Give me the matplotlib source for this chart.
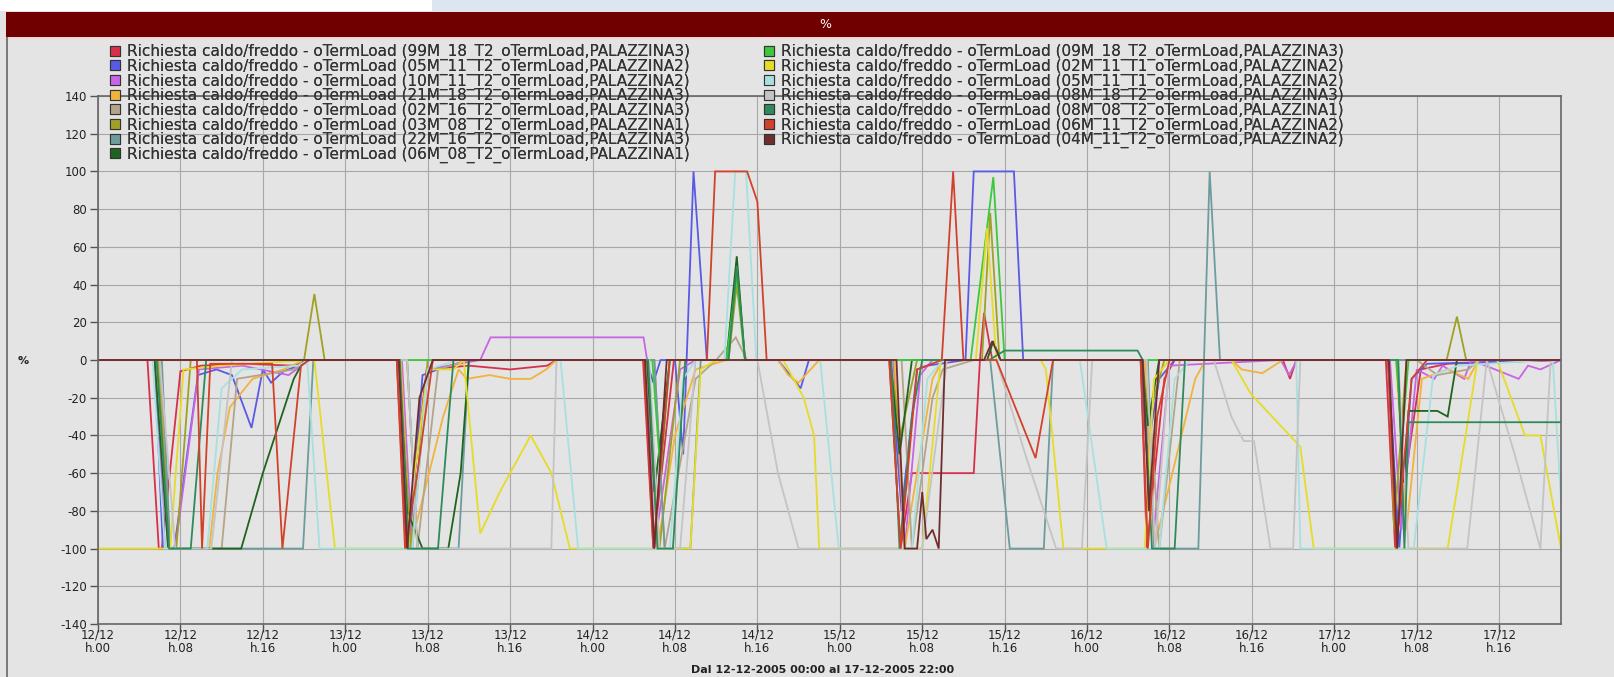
import matplotlib
matplotlib.use("Agg")
import matplotlib.pyplot as plt
from matplotlib.patches import Rectangle, Patch

W, H = 1614, 677

# --- data (hours from 12/12 00:00, value in %) ---
h_99m = [0, 4.8, 5.9, 6.2, 8.0, 10, 14, 19, 20.5, 29.0, 29.9, 31.9, 36, 40, 43.6, 44.5, 52.9, 53.9, 55.9,
         76.8, 77.9, 79.0, 85.0, 85.6, 86.0, 86.8, 101.2, 101.8, 103.5, 104.5, 115, 115.7, 116.3,
         125.0, 125.9, 128.4, 131, 142]
v_99m = [0, 0, -100, -100, -6, -3, -2, -3, 0, 0, -100, -5, -3, -5, -3, 0, 0, -100, 0,
         0, -100, -60, -60, 0, 25, 0, 0, -100, -10, 0, 0, -10, 0,
         0, -100, -5, -2, 0]

h_05m_t2 = [0, 5.5, 6.3, 7.4, 9.7, 11.5, 13, 14.9, 16, 16.8, 18, 19.5, 20.5, 29.3, 30.2, 31.5, 33, 36,
            53.2, 53.9, 54.6, 56.0, 56.8, 57.8, 59.1, 66, 68.2, 69, 76.9, 78.0, 79.5, 80.5,
            84.2, 85.0, 88.9, 89.8, 101.2, 101.8, 103, 104.5, 125.2, 126.3, 127.5, 129, 142]
v_05m_t2 = [0, 0, -100, -100, -8, -5, -8, -36, -5, -12, -6, -3, 0, 0, -100, -8, -5, 0,
            0, -12, 0, 0, -50, 100, 0, 0, -15, 0, 0, -80, -5, -3,
            0, 100, 100, 0, 0, -50, -10, 0, 0, -100, -10, -2, 0]

h_10m = [0, 5.6, 6.5, 7.5, 9.8, 14, 18.5, 20.5, 29.5, 30.5, 32, 37.1, 38.1, 52.95, 53.3, 54.0, 56.5, 58,
         77.2, 78.3, 79.8, 81, 101.5, 102.5, 104, 114.8, 115.6, 116.4, 125.4, 126.5, 128.0, 129.7,
         130.5, 132.6, 133.3, 137.9, 138.8, 140, 142]
v_10m = [0, 0, -100, -100, -5, -3, -8, 0, 0, -100, -5, 0, 12, 12, 0, -100, -5, 0,
         0, -100, -8, 0, 0, -90, -3, 0, -8, 0, 0, -90, -5, -10,
         -3, -10, 0, -10, -3, -5, 0]

h_21m = [0, 5.5, 7.0, 10.8, 11.6, 12.8, 15, 18, 20, 29.4, 30.3, 33.5, 35.0, 35.8, 38, 40, 42, 43.5, 44.5,
         53.3, 54.3, 56, 58, 61, 66, 67, 68, 69, 70, 77.3, 78.3, 81, 82, 101.6, 102.5, 106.5, 107.5,
         110, 111, 113, 115, 126, 127, 128.5, 131, 133, 134, 142]
v_21m = [0, 0, -100, -100, -60, -25, -10, -5, 0, 0, -100, -30, -5, -10, -8, -10, -10, -5, 0,
         0, -100, -40, -5, 0, 0, -8, -12, -6, 0, 0, -100, -10, 0, 0, -100, -10, 0,
         0, -5, -7, 0, 0, -90, -10, -5, -10, 0, 0]

h_02m_t2 = [0, 6, 7, 12, 13.5, 19, 20, 21, 30, 31, 33, 36, 54, 55, 58, 60, 61.9, 63,
            78, 79, 81, 82, 85, 86, 101.8, 103, 105, 128, 130, 133, 134, 142]
v_02m_t2 = [0, 0, -100, -100, -10, -5, 0, 0, 0, -100, -5, 0, 0, -100, -10, 0, 12, 0,
            0, -100, -20, -5, 0, 0, 0, -100, 0, 0, -8, -5, 0, 0]

h_03m = [0, 5.8, 7.0, 7.6, 9.0, 20.0, 21.0, 22.0, 29.2, 30.4, 32, 53.4, 54.5, 56.5, 61.2, 62.0, 62.8,
         76.9, 77.9, 79.5, 85.8, 86.6, 87.5, 101.3, 102.0, 103.5, 125.3, 125.8, 127, 130.9, 131.9, 132.8, 142]
v_03m = [0, 0, -100, -100, 0, 0, 35, 0, 0, -100, 0, 0, -100, 0, 0, 40, 0,
         0, -40, 0, 0, 78, 0, 0, -30, 0, 0, -90, 0, 0, 23, 0, 0]

h_22m = [0, 6.2, 7.0, 19.9, 20.9, 30, 31, 35, 36, 54, 55, 57.5, 58.5, 86.6, 88.5, 91.8, 92.7,
         101.9, 102.5, 106.8, 107.9, 108.9, 142]
v_22m = [0, 0, -100, -100, 0, 0, -100, -100, 0, 0, -100, -100, 0, 0, -100, -100, 0,
         0, -100, -100, 100, 0, 0]

h_06m_08 = [0, 5.5, 6.8, 13.9, 16, 19, 20, 29.2, 30.0, 31.5, 34, 35.2, 36, 53.3, 54.0, 55.5,
            61.0, 62.0, 62.8, 76.9, 77.8, 79, 86.3, 86.9, 87.6, 101.3, 101.9, 103,
            126.1, 126.7, 127.2, 130, 131, 131.9, 142]
v_06m_08 = [0, 0, -100, -100, -60, -10, 0, 0, -80, -100, -100, -60, 0, 0, -70, 0,
            0, 55, 0, 0, -50, 0, 0, 10, 0, 0, -35, 0,
            0, -65, -27, -27, -30, 0, 0]

h_09m = [0, 53.8, 54.6, 55.5, 61.0, 62.0, 62.8, 84.7, 86.9, 88.0, 126.0, 126.6, 127.2, 142]
v_09m = [0, 0, -60, 0, 0, 45, 0, 0, 97, 0, 0, -40, 0, 0]

h_02m_t1 = [0, 7.0, 8.3, 12, 20.5, 21.0, 23.0, 29.8, 32.0, 34.5, 35.5, 37.1, 39, 42.0, 44, 45.8,
            57.5, 58.5, 60, 66.5, 68.5, 69.5, 70.0, 80.0, 81.8, 85.2, 86.3, 87.2, 91.5, 92.0, 93.7,
            101.6, 102.5, 104, 110, 111.9, 116.7, 118, 131, 133.9, 135.8, 138.5, 140.0, 142]
v_02m_t1 = [-100, -100, -5, -3, 0, 0, -100, -100, -5, -5, 0, -92, -70, -40, -60, -100,
            -100, -5, 0, 0, -20, -40, -100, -100, 0, 0, 70, 0, 0, -5, -100,
            -100, -10, 0, 0, -18, -46, -100, -100, 0, 0, -40, -40, -100]

h_05m_t1 = [0, 5.3, 6.5, 10.6, 12.0, 14, 19.5, 20.3, 21.5, 30.5, 32.0, 35, 44.9, 46.6, 55.5, 56.8, 58,
            60.8, 61.85, 62.9, 63.9, 70.1, 71.9, 79.0, 80.5, 82, 95.3, 97.9, 103, 104.5, 106,
            116.3, 116.7, 127.7, 129.6, 132, 140.5, 141.2, 142]
v_05m_t1 = [0, 0, -100, -100, -15, -5, -3, 0, -100, -100, -5, 0, 0, -100, -100, -10, 0,
            0, 100, 100, 0, 0, -100, -100, -10, 0, 0, -100, -100, -10, 0,
            0, -100, -100, -8, -3, 0, 0, -75]

h_08m_18 = [0, 6.0, 7.5, 11.0, 13.0, 30.0, 31.0, 44.0, 44.5, 53.5, 54.5, 56.5, 58.0, 64.0, 66, 68.0,
            80.0, 82.4, 84, 87.2, 90, 93.0, 95.5, 96.5, 101.8, 102.6, 104, 108.3, 110.0, 111.2,
            112.2, 113.8, 116.0, 116.7, 126.2, 127.2, 129.5, 132.9, 134.8, 137.5, 140.0, 141.0, 142]
v_08m_18 = [0, 0, -100, -100, 0, 0, -100, -100, 0, 0, -100, -100, 0, 0, -60, -100,
            -100, 0, 0, 0, -50, -100, -100, 0, 0, -100, 0, 0, -30, -43,
            -43, -100, -100, 0, 0, -100, -100, -100, 0, -50, -100, 0, 0]

h_08m_08 = [0, 5.7, 6.9, 9, 10.5, 29.3, 30.1, 33, 34.5, 53.4, 54.3, 55.8, 57, 61.2, 62.0, 62.8,
            77.0, 77.8, 79.0, 80, 86.5, 88.0, 100.9, 101.4, 102.3, 104.5, 105.5, 126.2, 126.8, 127.2, 142]
v_08m_08 = [0, 0, -100, -100, 0, 0, -100, -100, 0, 0, -100, -100, 0, 0, 50, 0,
            0, -100, -30, 0, 0, 5, 5, 0, -100, -100, 0, 0, -100, -33, -33]

h_06m_11 = [0, 9.6, 10.1, 10.9, 16.9, 17.9, 19.7, 20.5, 29.0, 29.8, 31.0, 32.5, 53.0, 53.9, 55.5,
            59.1, 59.9, 63.0, 64.0, 64.9, 76.8, 77.9, 79.5, 81.9, 83.0, 84.0, 87.2, 91.0, 92.7,
            101.2, 101.9, 102.8, 104.0, 125.2, 126.0, 127.5, 129, 142]
v_06m_11 = [0, 0, -100, -2, -2, -100, -3, 0, 0, -100, -60, 0, 0, -100, 0,
            0, 100, 100, 84, 0, 0, -100, -5, 0, 100, 0, 0, -52, 0,
            0, -100, -30, 0, 0, -100, -10, 0, 0]

h_04m = [0, 29.2, 30.0, 31.2, 32.5, 53.1, 54.0, 55.2, 77.5, 78.3, 79.5, 80.0, 80.4, 81.0, 81.6, 82.2,
         86.0, 86.8, 87.6, 101.4, 102.0, 103.0, 125.3, 126.1, 127.0, 142]
v_04m = [0, 0, -100, -20, 0, 0, -100, 0, 0, -100, -100, -70, -95, -90, -100, 0,
         0, 10, 0, 0, -80, 0, 0, -100, 0, 0]

series_codes = ["99M_18_T2_oTermLoad,PALAZZINA3", "05M_11_T2_oTermLoad,PALAZZINA2",
                "10M_11_T2_oTermLoad,PALAZZINA2", "21M_18_T2_oTermLoad,PALAZZINA3",
                "02M_16_T2_oTermLoad,PALAZZINA3", "03M_08_T2_oTermLoad,PALAZZINA1",
                "22M_16_T2_oTermLoad,PALAZZINA3", "06M_08_T2_oTermLoad,PALAZZINA1",
                "09M_18_T2_oTermLoad,PALAZZINA3", "02M_11_T1_oTermLoad,PALAZZINA2",
                "05M_11_T1_oTermLoad,PALAZZINA2", "08M_18_T2_oTermLoad,PALAZZINA3",
                "08M_08_T2_oTermLoad,PALAZZINA1", "06M_11_T2_oTermLoad,PALAZZINA2",
                "04M_11_T2_oTermLoad,PALAZZINA2"]
series_colors = ["#d8304a", "#5a5ae6", "#c864e6", "#f2b23c", "#b4a488", "#a0a024", "#6e9c9c",
                 "#1e641e", "#3cc83c", "#e6dc28", "#a8e0e0", "#c4c4c4", "#2e8a5a", "#d2412a",
                 "#6e2e2e"]
series_h = [h_99m, h_05m_t2, h_10m, h_21m, h_02m_t2, h_03m, h_22m, h_06m_08, h_09m,
            h_02m_t1, h_05m_t1, h_08m_18, h_08m_08, h_06m_11, h_04m]
series_v = [v_99m, v_05m_t2, v_10m, v_21m, v_02m_t2, v_03m, v_22m, v_06m_08, v_09m,
            v_02m_t1, v_05m_t1, v_08m_18, v_08m_08, v_06m_11, v_04m]

x_ticks = [0, 8, 16, 24, 32, 40, 48, 56, 64, 72, 80, 88, 96, 104, 112, 120, 128, 136]
x_ticklabels = ["12/12\nh.00", "12/12\nh.08", "12/12\nh.16", "13/12\nh.00", "13/12\nh.08",
                "13/12\nh.16", "14/12\nh.00", "14/12\nh.08", "14/12\nh.16", "15/12\nh.00",
                "15/12\nh.08", "15/12\nh.16", "16/12\nh.00", "16/12\nh.08", "16/12\nh.16",
                "17/12\nh.00", "17/12\nh.08", "17/12\nh.16"]
y_ticks = list(range(-140, 141, 20))

bg = "#e4e4e4"


def fx(px):
    return px / W


def fy(py):
    return 1 - py / H


fig = plt.figure(figsize=(W / 100, H / 100), dpi=100, facecolor=bg)

# header strips and title bar
fig.add_artist(Rectangle((0, fy(11)), fx(432), 11 / H, transform=fig.transFigure,
                         facecolor="white", edgecolor="none"))
fig.add_artist(Rectangle((fx(432), fy(11)), 1 - fx(432), 11 / H, transform=fig.transFigure,
                         facecolor="#dce6f0", edgecolor="none"))
fig.add_artist(Rectangle((fx(6), fy(37)), 1 - fx(6), 25 / H, transform=fig.transFigure,
                         facecolor="#700000", edgecolor="none"))
fig.add_artist(Rectangle((fx(6), fy(39)), 1 - fx(6), 2 / H, transform=fig.transFigure,
                         facecolor="#f2d4d4", edgecolor="none"))
fig.add_artist(Rectangle((fx(6), 0), 2 / W, fy(37), transform=fig.transFigure,
                         facecolor="#7a7a7a", edgecolor="none"))
fig.text(fx(825), fy(24), "%", color="white", fontsize=9, ha="center", va="center")

ax = fig.add_axes([fx(98), fy(624), fx(1561) - fx(98), (624 - 96) / H])
ax.set_facecolor(bg)

for hs, vs, c in zip(series_h, series_v, series_colors):
    ax.plot(hs, vs, color=c, lw=1.3, solid_joinstyle="miter")

ax.set_xlim(0, 142)
ax.set_ylim(-140, 140)
ax.set_xticks(x_ticks)
ax.set_xticklabels(x_ticklabels, fontsize=8.5, linespacing=1.1)
ax.set_yticks(y_ticks)
ax.set_yticklabels([str(t) for t in y_ticks], fontsize=8.5)
ax.tick_params(direction="out", length=6, width=1, color="#555555", labelcolor="#222222", pad=2)
ax.tick_params(axis="x", pad=-3)
ax.grid(True, color="#a8a8a8", lw=0.8)
ax.set_axisbelow(True)
for s in ax.spines.values():
    s.set_color("#666666")
    s.set_linewidth(1.2)

fig.text(fx(823), fy(670), "Dal 12-12-2005 00:00 al 17-12-2005 22:00", fontsize=8,
         fontweight="bold", ha="center", va="center", color="#222222")
fig.text(fx(23), fy(361), "%", fontsize=8, fontweight="bold", ha="center", va="center",
         color="#222222")

labels = ["Richiesta caldo/freddo - oTermLoad (" + c + ")" for c in series_codes]
handles = [Patch(facecolor=c, edgecolor="#333333", lw=0.8) for c in series_colors]
for sl, xpx in [(slice(0, 8), 110), (slice(8, 15), 764)]:
    leg = fig.legend(handles[sl], labels[sl], loc="upper left",
                     bbox_to_anchor=(fx(xpx), fy(44)), frameon=False, fontsize=11,
                     handlelength=0.65, handleheight=0.65, handletextpad=0.45,
                     labelspacing=-0.1, borderpad=0, borderaxespad=0)
    for t in leg.get_texts():
        t.set_color("#333333")
    fig.add_artist(leg)

fig.savefig("out.png", dpi=100, facecolor=bg)
